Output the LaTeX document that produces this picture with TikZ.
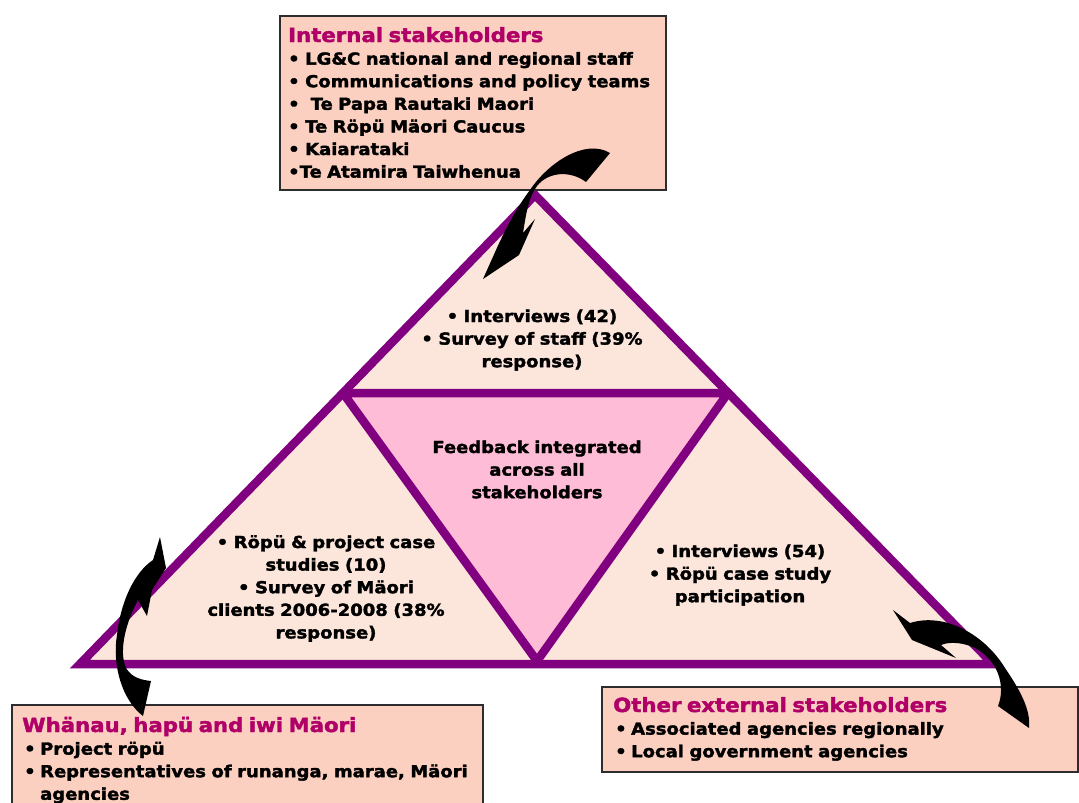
\documentclass[tikz,border=0pt]{standalone}
\usepackage{fontspec}
\setmainfont{DejaVu Sans}[FakeStretch=1.09, BoldFeatures={FakeBold=2}]
\usetikzlibrary{positioning}
\definecolor{tripurple}{RGB}{128,0,128}
\definecolor{trifill}{RGB}{252,229,219}
\definecolor{midpink}{RGB}{255,188,214}
\definecolor{boxfill}{RGB}{251,208,192}
\definecolor{boxline}{RGB}{45,45,45}
\definecolor{headcol}{RGB}{176,0,104}
\newcommand{\bodyfont}{\fontsize{16.5}{22.6}\selectfont\bfseries}
\newcommand{\headfont}{\fontsize{19.5}{22.6}\selectfont\color{headcol}}
\newcommand{\bul}{\makebox[16pt][l]{•}}
\tikzset{
  tri/.style={draw=tripurple, line width=8.5, line join=miter},
  stakebox/.style={draw=boxline, line width=1.5, fill=boxfill, inner sep=0pt, anchor=north west},
  boxtext/.style={anchor=base west, inner sep=0pt, text width=#1, align=left, font=\bodyfont},
  tritext/.style={anchor=base, inner sep=0pt, text width=#1, align=center, font=\bodyfont},
  curvearrow/.style={fill=black, draw=none}
}
\begin{document}
\begin{tikzpicture}[x=1pt, y=-1pt]
	\useasboundingbox (0,0) rectangle (1079,803);
	% triangle corners
	\coordinate (apex) at (535,195);
	\coordinate (lcorner) at (80,664);
	\coordinate (rcorner) at (993,664);
	\coordinate (ileft) at (343,393);
	\coordinate (iright) at (728,393);
	\coordinate (ibottom) at (537,661);
	\fill[trifill] (apex) -- (lcorner) -- (rcorner) -- cycle;
	\begin{scope}
		\clip (apex) -- (lcorner) -- (rcorner) -- cycle;
		\draw[tri, fill=midpink] (ileft) -- (iright) -- (ibottom) -- cycle;
	\end{scope}
	\draw[tri] (apex) -- (lcorner) -- (rcorner) -- cycle;
	% stakeholder boxes
	\node[stakebox, minimum width=386, minimum height=174] (intbox) at (279,15) {};
	\node[stakebox, minimum width=471, minimum height=120] (whanaubox) at (11,704) {};
	\node[stakebox, minimum width=476, minimum height=85] (extbox) at (601,686) {};
	\node[boxtext=420] (inttext) at (288,42) {{\headfont Internal stakeholders}\\
		• LG\&C national and regional staff\\
		• Communications and policy teams\\
		•\ \ Te Papa Rautaki Maori\\
		• Te Röpü Mäori Caucus\\
		• Kaiarataki\\
		•Te Atamira Taiwhenua};
	\node[boxtext=500] (whanautext) at (22,732) {{\headfont Whänau, hapü and iwi Mäori}\\
		\hspace*{2pt}\bul Project röpü\\
		\hspace*{2pt}\bul Representatives of runanga, marae, Mäori\\
		\hspace*{18pt}agencies};
	\node[boxtext=460] (exttext) at (613,712) {{\headfont Other external stakeholders}\\
		\hspace*{2pt}\bul Associated agencies regionally\\
		\hspace*{2pt}\bul Local government agencies};
	% triangle texts
	\node[tritext=280] (toptext) at (532,322) {• Interviews (42)\\ • Survey of staff (39\%\\ response)};
	\node[tritext=260] (midtext) at (537,453) {Feedback integrated\\ across all\\ stakeholders};
	\node[tritext=280] (lefttext) at (326,548) {• Röpü \& project case\\ studies (10)\\ • Survey of Mäori\\ clients 2006-2008 (38\%\\ response)};
	\node[tritext=240] (righttext) at (740,557) {• Interviews (54)\\ • Röpü case study\\ participation};
	% curved arrows
	\fill[curvearrow] (483,279) -- (496,250) .. controls (505,230) and (517,207) .. (530,190)
		.. controls (548,163) and (585,138) .. (610,153) -- (586,182)
		.. controls (570,170) and (548,172) .. (537,186)
		.. controls (528,198) and (526,215) .. (523,233) -- (535,219) -- (519,255) -- cycle;
	\fill[curvearrow] (160,537) -- (166,568) -- (152,590) -- (147,616) -- (138,600)
		.. controls (127,620) and (118,650) .. (126,668)
		.. controls (132,678) and (142,680) .. (151,681) -- (143,716)
		.. controls (122,700) and (112,665) .. (117,635)
		.. controls (121,600) and (135,572) .. (153,560) -- cycle;
	\fill[curvearrow] (893,610) -- (910,623) .. controls (945,612) and (985,635) .. (1005,668)
		.. controls (1020,690) and (1031,710) .. (1029,728) -- (998,706)
		.. controls (1006,686) and (998,660) .. (975,648)
		.. controls (965,643) and (950,641) .. (941,645) -- (956,658) -- (912,640) -- cycle;
\end{tikzpicture}
\end{document}
